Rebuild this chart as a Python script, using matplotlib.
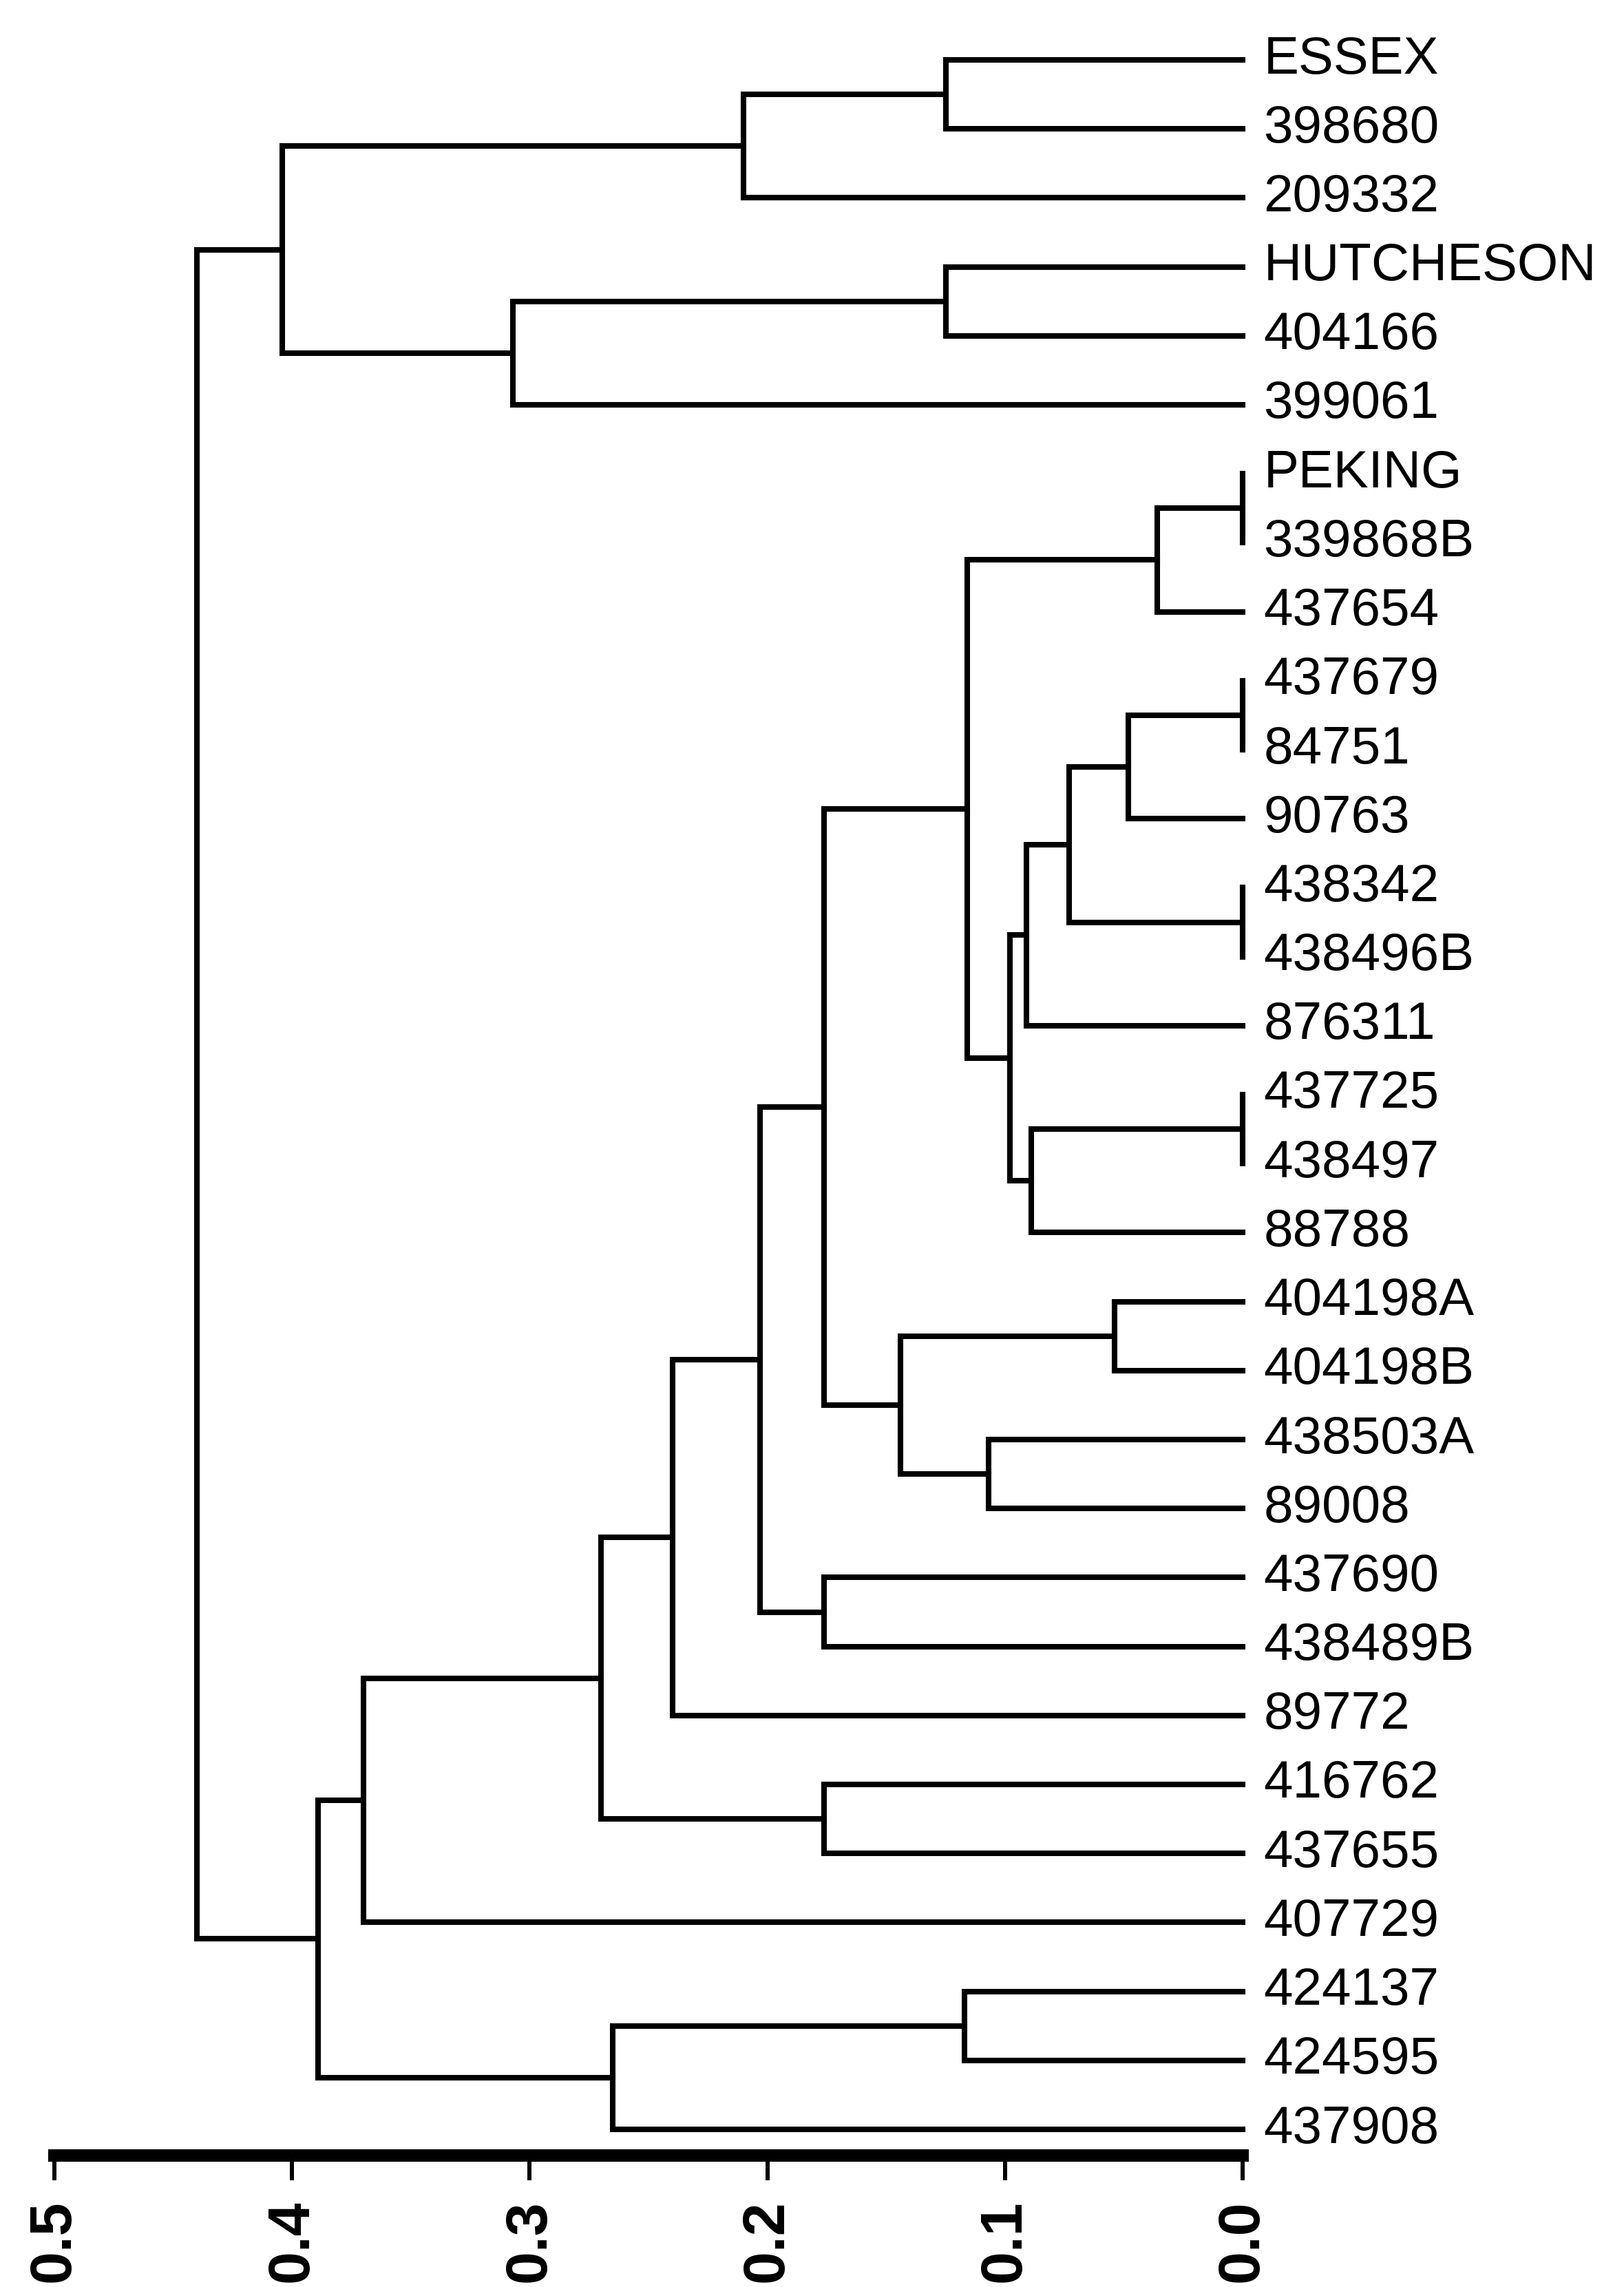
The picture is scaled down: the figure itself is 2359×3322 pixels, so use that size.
import matplotlib
matplotlib.use("Agg")
import matplotlib.pyplot as plt

# leaf order, top to bottom
leaves = ["ESSEX", "398680", "209332", "HUTCHESON", "404166", "399061",
          "PEKING", "339868B", "437654", "437679", "84751", "90763",
          "438342", "438496B", "876311", "437725", "438497", "88788",
          "404198A", "404198B", "438503A", "89008", "437690", "438489B",
          "89772", "416762", "437655", "407729", "424137", "424595", "437908"]

# merges: (left, right, distance); cluster k is named "c<k>"
merge_left = ["ESSEX", "c0", "HUTCHESON", "c2", "c1",
              "PEKING", "c5", "437679", "c7", "438342", "c8", "c10",
              "437725", "c12", "c11", "c6",
              "404198A", "438503A", "c16", "c15", "437690", "c19", "c21",
              "416762", "c22", "c24", "424137", "c26", "c25", "c4"]
merge_right = ["398680", "209332", "404166", "399061", "c3",
               "339868B", "437654", "84751", "90763", "438496B", "c9", "876311",
               "438497", "88788", "c13", "c14",
               "404198B", "89008", "c17", "c18", "438489B", "c20", "89772",
               "437655", "c23", "407729", "424595", "437908", "c27", "c28"]
merge_dist = [0.125, 0.210, 0.125, 0.307, 0.404,
              0.0, 0.036, 0.0, 0.048, 0.0, 0.073, 0.091,
              0.0, 0.089, 0.098, 0.116,
              0.054, 0.107, 0.144, 0.176, 0.176, 0.203, 0.240,
              0.176, 0.270, 0.370, 0.117, 0.265, 0.389, 0.440]

scale_ticks = [0.5, 0.4, 0.3, 0.2, 0.1, 0.0]

W, H = 2359, 3322
fig = plt.figure(figsize=(W / 100, H / 100), dpi=100)
axis_y = 3131            # pixel row of the scale bar
ax = fig.add_axes([0, (H - axis_y) / H, 1, axis_y / H])

lw = 5.8
pos = {name: (0.0, i) for i, name in enumerate(leaves)}
for k, (a, b, d) in enumerate(zip(merge_left, merge_right, merge_dist)):
    ha, ya = pos[a]
    hb, yb = pos[b]
    ax.plot([ha, d, d, hb], [ya, ya, yb, yb], color="black", lw=lw,
            solid_joinstyle="miter", solid_capstyle="projecting", clip_on=False)
    pos["c%d" % k] = (d, (ya + yb) / 2)

for i, name in enumerate(leaves):
    ax.text(-0.0088, i, name, ha="left", va="center", fontsize=55,
            family=["Liberation Sans", "DejaVu Sans"])

px_per_unit = 3452.0
zero_px = 1805.0
first_y = 87.0
step = (3093.0 - first_y) / (len(leaves) - 1)
ax.set_xlim(zero_px / px_per_unit, -(W - zero_px) / px_per_unit)
ax.set_ylim((axis_y - first_y) / step, -first_y / step)

for s in ["left", "right", "top"]:
    ax.spines[s].set_visible(False)
ax.spines["bottom"].set_bounds(0.0, 0.5)
ax.spines["bottom"].set_linewidth(13)
ax.spines["bottom"].set_capstyle("projecting")
ax.set_yticks([])
ax.set_xticks(scale_ticks)
ax.set_xticklabels(["%.1f" % t for t in scale_ticks], rotation=90,
                   fontsize=62, fontweight="bold",
                   family=["Liberation Sans", "DejaVu Sans"])
ax.tick_params(axis="x", direction="out", length=26, width=4.3, pad=20)

fig.savefig("out.png", dpi=100, facecolor="white")
